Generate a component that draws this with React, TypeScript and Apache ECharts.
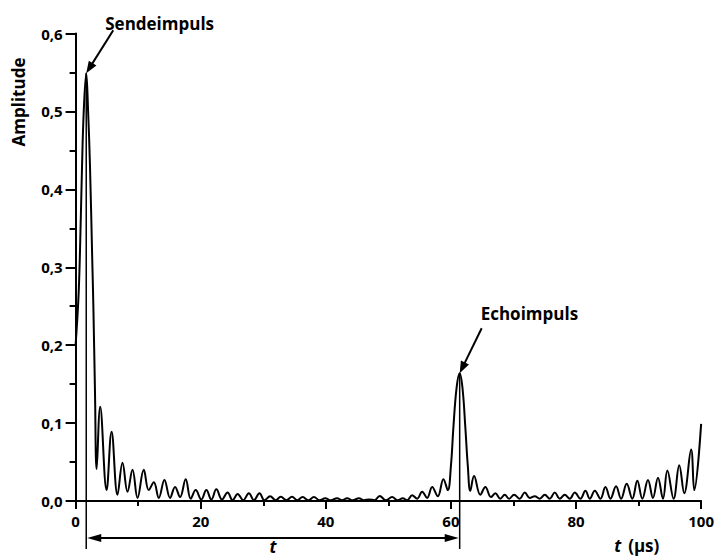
import React, { useEffect, useRef } from "react";
import * as echarts from "echarts";

// Curve: time in µs, amplitude
const timeUs = [
  0, 0.45, 0.7, 1.0, 1.3, 1.7, 2.0, 2.3, 2.66, 2.84, 3.1, 3.36,
  3.93, 4.95, 5.75, 6.7, 7.5, 8.3, 9.1, 9.9, 10.9, 11.7, 12.5, 13.3, 14.2, 15.1, 15.9, 16.7, 17.6, 18.4,
  19.2, 20.1, 20.9, 21.7, 22.5, 23.4, 24.3, 25.1, 25.9, 26.8, 27.7, 28.5, 29.4, 30.2, 31.1, 32.0,
  32.8, 33.7, 34.6, 35.4, 36.3, 37.2, 38.1, 39.0, 39.9, 40.8, 41.8, 42.6, 43.4, 44.3, 45.3, 46.1,
  46.9, 47.8, 48.6, 49.6, 50.6, 51.5, 52.3, 53.0, 53.8, 54.6, 55.4, 56.2, 57.0, 57.9, 58.8, 59.5,
  60.0, 60.4, 60.9, 61.4, 61.85, 62.3, 62.7, 63.1,
  63.7, 64.7, 65.5, 66.4, 67.1, 67.9, 68.6, 69.3, 70.1, 71.0, 71.8, 72.6, 73.4, 74.2, 75.0, 75.8,
  76.6, 77.4, 78.2, 79.0, 79.8, 80.7, 81.5, 82.2, 83.0, 83.9, 84.7, 85.5, 86.4, 87.2, 88.1, 89.0,
  89.8, 90.6, 91.5, 92.3, 93.1, 93.9, 94.6, 95.6, 96.5, 97.3, 98.4, 98.9, 100,
];
const amplitude = [
  0.2, 0.26, 0.32, 0.42, 0.5, 0.549, 0.5, 0.43, 0.31, 0.25, 0.14, 0.041,
  0.121, 0.014, 0.089, 0.008, 0.049, 0.012, 0.04, 0.004, 0.04, 0.014, 0.024, 0.004, 0.027, 0.004, 0.018, 0.005, 0.028, 0.003,
  0.014, 0.002, 0.014, 0.002, 0.015, 0.002, 0.011, 0.001, 0.009, 0.001, 0.01, 0.001, 0.01, 0.001, 0.006, 0.001,
  0.0055, 0.001, 0.0055, 0.001, 0.005, 0.001, 0.005, 0.001, 0.0035, 0.001, 0.0035, 0.001, 0.0035, 0.001, 0.0035, 0.001,
  0.002, 0.001, 0.0065, 0.001, 0.005, 0.001, 0.0035, 0.001, 0.0075, 0.003, 0.012, 0.004, 0.018, 0.006, 0.028, 0.014,
  0.045, 0.095, 0.145, 0.164, 0.145, 0.095, 0.045, 0.013,
  0.032, 0.008, 0.018, 0.005, 0.01, 0.003, 0.008, 0.003, 0.008, 0.003, 0.011, 0.004, 0.006, 0.003, 0.008, 0.003,
  0.011, 0.003, 0.008, 0.003, 0.011, 0.003, 0.013, 0.003, 0.013, 0.003, 0.018, 0.003, 0.019, 0.003, 0.022, 0.003,
  0.026, 0.003, 0.027, 0.004, 0.03, 0.003, 0.039, 0.003, 0.046, 0.01, 0.066, 0.014, 0.099,
];

const xTicks = [0, 20, 40, 60, 80, 100];
const yTicks = [0, 0.1, 0.2, 0.3, 0.4, 0.5, 0.6];

// Annotated pulses
const sendPulse = { label: "Sendeimpuls", t: 1.7, a: 0.549 };
const echoPulse = { label: "Echoimpuls", t: 61.4, a: 0.164 };

const FONT = "'Open Sans', 'DejaVu Sans', sans-serif";

function arrowHead(tipX: number, tipY: number, fromX: number, fromY: number, len: number, half: number) {
  const dx = tipX - fromX;
  const dy = tipY - fromY;
  const l = Math.hypot(dx, dy) || 1;
  const ux = dx / l;
  const uy = dy / l;
  const bx = tipX - ux * len;
  const by = tipY - uy * len;
  return [
    [tipX, tipY],
    [bx - uy * half, by + ux * half],
    [bx + uy * half, by - ux * half],
  ];
}

export default function App() {
  const ref = useRef<HTMLDivElement>(null);

  useEffect(() => {
    document.body.style.margin = "0";
    if (!ref.current) return;
    const chart = echarts.init(ref.current, null, { renderer: "svg" });
    const data = timeUs.map((t, i) => [t, amplitude[i]]);
    const axisColor = "#000";
    chart.setOption({
      animation: false,
      backgroundColor: "#fff",
      grid: { left: 75.6, right: 13, top: 33.5, bottom: 56 },
      xAxis: {
        type: "value",
        min: xTicks[0],
        max: xTicks[xTicks.length - 1],
        interval: 20,
        axisLine: { show: true, lineStyle: { color: axisColor, width: 2 } },
        axisTick: { show: true, length: 8, lineStyle: { color: axisColor, width: 2 } },
        minorTick: { show: true, splitNumber: 2, length: 5, lineStyle: { color: axisColor, width: 2 } },
        splitLine: { show: false },
        axisLabel: { color: "#000", fontFamily: FONT, fontWeight: "bold", fontSize: 15, margin: 12 },
      },
      yAxis: {
        type: "value",
        min: yTicks[0],
        max: yTicks[yTicks.length - 1],
        interval: 0.1,
        axisLine: { show: true, lineStyle: { color: axisColor, width: 2 } },
        axisTick: { show: true, length: 10, lineStyle: { color: axisColor, width: 2 } },
        minorTick: { show: true, splitNumber: 2, length: 6, lineStyle: { color: axisColor, width: 2 } },
        splitLine: { show: false },
        axisLabel: {
          color: "#000",
          fontFamily: FONT,
          fontWeight: "bold",
          fontSize: 15,
          margin: 13,
          formatter: (v: number) => v.toFixed(1).replace(".", ","),
        },
      },
      series: [
        {
          type: "line",
          data,
          smooth: 0.4,
          symbol: "none",
          lineStyle: { color: "#000", width: 2 },
        },
      ],
    });

    const px = (t: number, a: number) => chart.convertToPixel({ gridIndex: 0 }, [t, a]) as number[];
    const [sx, sy] = px(sendPulse.t, sendPulse.a);
    const [ex, ey] = px(echoPulse.t, echoPulse.a);
    const [, y0] = px(0, 0);
    const [xEnd] = px(100, 0);

    const black = { stroke: "#000", lineWidth: 2 };
    const arrowY = y0 + 37;
    const lineBottom = y0 + 48;

    const sendStart = [sx + 27, sy - 43];
    const echoStart = [ex + 22, ey - 45];

    const annoArrow = (start: number[], tipX: number, tipY: number) => {
      const head = arrowHead(tipX, tipY, start[0], start[1], 12, 4.5);
      const dx = tipX - start[0];
      const dy = tipY - start[1];
      const l = Math.hypot(dx, dy);
      return [
        {
          type: "line",
          shape: { x1: start[0], y1: start[1], x2: tipX - (dx / l) * 9, y2: tipY - (dy / l) * 9 },
          style: black,
        },
        { type: "polygon", shape: { points: head }, style: { fill: "#000" } },
      ];
    };

    chart.setOption({
      graphic: [
        { type: "line", shape: { x1: sx, y1: sy, x2: sx, y2: lineBottom }, style: { stroke: "#000", lineWidth: 1.5 } },
        { type: "line", shape: { x1: ex, y1: ey, x2: ex, y2: lineBottom }, style: { stroke: "#000", lineWidth: 1.5 } },
        { type: "line", shape: { x1: sx + 10, y1: arrowY, x2: ex - 10, y2: arrowY }, style: black },
        { type: "polygon", shape: { points: arrowHead(sx + 1, arrowY, sx + 20, arrowY, 14, 4) }, style: { fill: "#000" } },
        { type: "polygon", shape: { points: arrowHead(ex - 1, arrowY, ex - 20, arrowY, 14, 4) }, style: { fill: "#000" } },
        {
          type: "text",
          x: (sx + ex) / 2,
          y: y0 + 45,
          style: { text: "t", fill: "#000", font: `italic bold 17px ${FONT}`, align: "center", verticalAlign: "middle" },
        },
        ...annoArrow(sendStart, sx, sy),
        ...annoArrow(echoStart, ex, ey),
        {
          type: "text",
          x: sx + 19,
          y: sy - 50,
          style: { text: sendPulse.label, fill: "#000", font: `bold 17px ${FONT}`, align: "left", verticalAlign: "middle" },
        },
        {
          type: "text",
          x: ex + 21,
          y: ey - 60,
          style: { text: echoPulse.label, fill: "#000", font: `bold 17px ${FONT}`, align: "left", verticalAlign: "middle" },
        },
        {
          type: "text",
          x: 18,
          y: 102,
          rotation: Math.PI / 2,
          style: { text: "Amplitude", fill: "#000", font: `bold 17px ${FONT}`, align: "center", verticalAlign: "middle" },
        },
        {
          type: "text",
          x: xEnd - 87,
          y: y0 + 44,
          style: { text: "t", fill: "#000", font: `italic bold 17px ${FONT}`, align: "left", verticalAlign: "middle" },
        },
        {
          type: "text",
          x: xEnd - 73,
          y: y0 + 44,
          style: { text: "(µs)", fill: "#000", font: `bold 17px ${FONT}`, align: "left", verticalAlign: "middle" },
        },
      ],
    });

    return () => chart.dispose();
  }, []);

  return <div ref={ref} style={{ width: 717, height: 557 }} />;
}
